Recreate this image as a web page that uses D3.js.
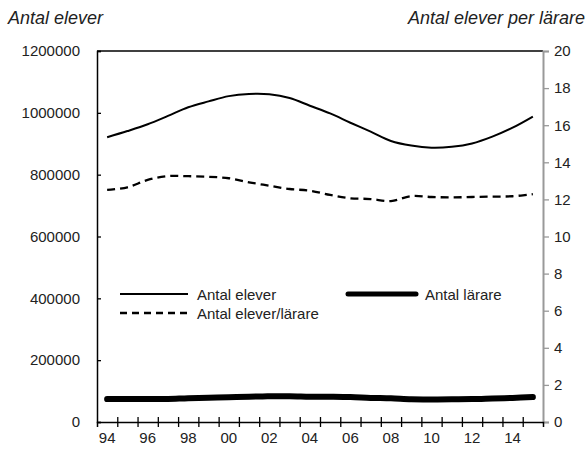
<!DOCTYPE html>
<html><head><meta charset="utf-8">
<script src="https://cdn.jsdelivr.net/npm/d3@7"></script>
<style>
html,body{margin:0;padding:0;background:#fff;}
svg{display:block;}
.tick text, .lbl{font-family:"Liberation Sans",Arial,sans-serif;font-size:15px;fill:#222;}
.ttl{font-family:"Liberation Sans",Arial,sans-serif;font-style:italic;font-size:18px;fill:#222;}
</style></head>
<body>
<svg id="c" width="588" height="452"></svg>
<script>
const years = [1994,1995,1996,1997,1998,1999,2000,2001,2002,2003,2004,2005,2006,2007,2008,2009,2010,2011,2012,2013,2014,2015];
const elever = [921000,941000,963000,990000,1018000,1037000,1054000,1061000,1060000,1048000,1023000,998000,968000,939000,909000,894000,887000,890000,901000,923000,952000,988000];
const larare = [74000,74500,74000,74500,77000,78500,80000,82000,83000,83500,82000,81500,80500,78000,76500,73500,73000,73500,74000,76000,78000,80500];
const elevPerLarare = [12.51,12.65,13.05,13.26,13.25,13.22,13.14,12.92,12.74,12.56,12.47,12.24,12.06,12.02,11.91,12.18,12.13,12.11,12.13,12.15,12.17,12.28];
const leftTicks = [0,200000,400000,600000,800000,1000000,1200000];
const rightTicks = [0,2,4,6,8,10,12,14,16,18,20];
const xLabelYears = [1994,1996,1998,2000,2002,2004,2006,2008,2010,2012,2014];
const seriesNames = ["Antal elever","Antal lärare","Antal elever/lärare"];
const leftTitle = "Antal elever";
const rightTitle = "Antal elever per lärare";

const svg = d3.select("#c");
const L=97, R=543, T=51, B=422;

const x = d3.scaleBand().domain(years).range([L,R]).padding(0);
const xc = d => x(d) + x.bandwidth()/2;
const xb = d3.scaleLinear().domain([0, years.length]).range([L,R]);
const yL = d3.scaleLinear().domain([0,1200000]).range([B,T]);
const yR = d3.scaleLinear().domain([0,20]).range([B,T]);

// top border
svg.append("line").attr("x1",L).attr("x2",R).attr("y1",T).attr("y2",T).attr("stroke","#000").attr("stroke-width",1.3);

// right axis (gray)
const gR = svg.append("g").attr("transform",`translate(${R},0)`)
  .call(d3.axisRight(yR).tickValues(rightTicks).tickSize(6).tickPadding(5).tickFormat(d3.format("d")));
gR.select(".domain").attr("stroke","#999").attr("stroke-width",2);
gR.selectAll(".tick line").attr("stroke","#999").attr("stroke-width",1.3);

// left axis
const gL = svg.append("g").attr("transform",`translate(${L},0)`)
  .call(d3.axisLeft(yL).tickValues(leftTicks).tickSize(-4).tickPadding(17).tickFormat(d3.format("d")));
gL.select(".domain").attr("stroke","#000").attr("stroke-width",1.5);
gL.selectAll(".tick line").attr("stroke","#000").attr("stroke-width",1.3);

// bottom axis: ticks at category boundaries, crossing
const gB = svg.append("g").attr("transform",`translate(0,${B})`)
  .call(d3.axisBottom(xb).tickValues(d3.range(1, years.length)).tickSize(5).tickFormat(""));
gB.select(".domain").attr("stroke","#000").attr("stroke-width",1.5);
gB.selectAll(".tick line").attr("y1",-5).attr("y2",5).attr("stroke","#000").attr("stroke-width",1.3);

// bottom labels
const gBL = svg.append("g").attr("transform",`translate(0,${B})`)
  .call(d3.axisBottom(x).tickValues(xLabelYears).tickSize(0).tickPadding(10).tickFormat(d => String(d).slice(2)));
gBL.select(".domain").remove();

svg.selectAll(".tick text").attr("fill","#222").style("font-size","15px");

// titles
svg.append("text").attr("class","ttl").attr("x",8).attr("y",24).text(leftTitle);
svg.append("text").attr("class","ttl").attr("x",585).attr("y",24).attr("text-anchor","end").text(rightTitle);

// lines
const curve = d3.curveCatmullRom.alpha(0.5);
const lineL = d3.line().x((d,i)=>xc(years[i])).y(d=>yL(d)).curve(curve);
const lineR = d3.line().x((d,i)=>xc(years[i])).y(d=>yR(d)).curve(curve);

svg.append("path").attr("d",lineL(elever)).attr("fill","none").attr("stroke","#000").attr("stroke-width",2);
svg.append("path").attr("d",lineR(elevPerLarare)).attr("fill","none").attr("stroke","#000").attr("stroke-width",2.3).attr("stroke-dasharray","8,5");
svg.append("path").attr("d",lineL(larare)).attr("fill","none").attr("stroke","#000").attr("stroke-width",6).attr("stroke-linecap","round");

// legend
const leg = [
  {name:seriesNames[0], x:120, y:294, w:2, dash:null, cap:"butt"},
  {name:seriesNames[1], x:348, y:294, w:5, dash:null, cap:"round"},
  {name:seriesNames[2], x:120, y:313, w:2.3, dash:"7,5", cap:"butt"}
];
const lg = svg.append("g").selectAll("g").data(leg).join("g");
lg.append("line").attr("x1",d=>d.x).attr("x2",d=>d.x+68).attr("y1",d=>d.y).attr("y2",d=>d.y)
  .attr("stroke","#000").attr("stroke-width",d=>d.w).attr("stroke-dasharray",d=>d.dash).attr("stroke-linecap",d=>d.cap);
lg.append("text").attr("class","lbl").attr("x",d=>d.x+77).attr("y",d=>d.y+6).text(d=>d.name);
</script>
</body></html>
